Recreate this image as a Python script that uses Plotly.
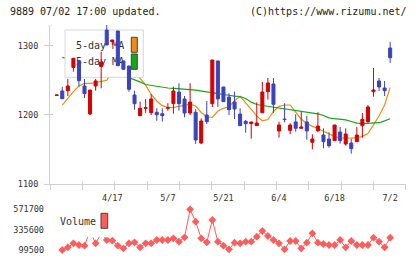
import plotly.graph_objects as go

# ---------------- data ----------------
idx = list(range(61))
opens = [1228.3, 1234.8, 1235.2, 1268.8, 1278.3, 1242.0, 1201.4, 1242.0, 1270.3, 1323.0,
         1306.2, 1321.7, 1278.3, 1271.0, 1229.0, 1199.0, 1209.7, 1203.3, 1203.9, 1201.9,
         1209.8, 1216.4, 1233.3, 1223.2, 1202.9, 1203.9, 1159.4, 1200.0, 1216.4, 1278.3,
         1240.6, 1226.0, 1218.8, 1201.4, 1190.9, 1187.4, 1184.5, 1203.3, 1233.8, 1244.9,
         1176.8, 1194.0, 1177.8, 1189.9, 1180.7, 1189.9, 1160.4, 1177.2, 1171.0, 1165.2,
         1162.8, 1175.4, 1158.0, 1159.4, 1161.3, 1184.5, 1190.3, 1233.8, 1249.3, 1239.1,
         1297.1]
highs = [1229.0, 1241.0, 1252.2, 1282.2, 1278.3, 1252.2, 1236.2, 1252.2, 1291.7, 1334.0,
         1308.7, 1321.7, 1278.3, 1271.0, 1235.2, 1219.3, 1223.0, 1230.0, 1209.7, 1209.7,
         1217.0, 1241.0, 1246.0, 1227.5, 1246.0, 1208.3, 1195.2, 1220.3, 1279.7, 1278.3,
         1240.6, 1231.4, 1233.8, 1209.7, 1192.8, 1189.9, 1218.4, 1247.8, 1253.6, 1253.6,
         1190.3, 1217.0, 1188.0, 1201.0, 1204.8, 1199.0, 1172.0, 1203.9, 1180.7, 1175.0,
         1185.5, 1182.6, 1180.7, 1165.2, 1182.6, 1202.9, 1214.5, 1268.1, 1253.6, 1249.3,
         1305.8]
lows = [1228.3, 1223.6, 1227.5, 1262.8, 1241.0, 1224.6, 1200.0, 1235.2, 1238.7, 1301.4,
        1301.4, 1271.4, 1266.2, 1233.8, 1207.7, 1199.0, 1203.0, 1200.0, 1191.7, 1190.3,
        1206.2, 1201.9, 1206.2, 1196.7, 1200.0, 1158.0, 1158.0, 1187.0, 1211.6, 1211.6,
        1219.3, 1200.0, 1194.2, 1184.5, 1174.3, 1165.7, 1184.5, 1203.3, 1222.2, 1203.3,
        1167.1, 1189.4, 1172.0, 1175.8, 1180.7, 1164.2, 1150.3, 1174.9, 1151.7, 1152.7,
        1162.8, 1158.4, 1155.5, 1143.9, 1161.3, 1167.1, 1188.8, 1226.5, 1234.8, 1227.5,
        1275.4]
closes = [1229.0, 1223.6, 1242.0, 1282.2, 1249.7, 1230.9, 1236.2, 1249.3, 1276.7, 1301.4,
          1308.7, 1271.4, 1266.2, 1237.2, 1216.4, 1209.7, 1210.6, 1223.2, 1200.5, 1199.0,
          1210.4, 1234.8, 1216.4, 1202.9, 1218.8, 1163.8, 1191.3, 1190.3, 1279.7, 1223.2,
          1219.3, 1207.7, 1208.7, 1184.5, 1187.4, 1189.9, 1188.4, 1233.3, 1246.4, 1215.5,
          1185.5, 1193.5, 1185.5, 1180.7, 1182.6, 1176.8, 1165.2, 1184.0, 1161.3, 1155.5,
          1185.5, 1162.8, 1172.5, 1151.2, 1171.0, 1193.7, 1211.6, 1236.2, 1240.6, 1235.2,
          1283.0]
ma5 = [None, 1214.2, 1224.1, 1233.8, 1241.9, 1245.7, 1245.9, 1246.7, 1248.6, 1250.3,
       1262.0, 1272.0, 1278.0, 1275.0, 1265.0, 1253.0, 1243.2, 1229.7, 1220.3, 1213.5,
       1210.9, 1210.7, 1212.6, 1214.3, 1215.7, 1213.0, 1203.6, 1197.5, 1196.4, 1205.8,
       1209.7, 1211.9, 1220.6, 1227.0, 1218.0, 1208.0, 1198.3, 1191.6, 1193.5, 1205.1,
       1212.5, 1214.5, 1214.5, 1204.6, 1193.9, 1188.0, 1183.5, 1180.4, 1176.8, 1172.2,
       1168.6, 1167.0, 1166.7, 1166.4, 1167.4, 1168.7, 1173.0, 1185.5, 1198.6, 1214.5,
       1240.0]
ma25 = [None, 1283.6, 1281.5, 1279.5, 1277.5, 1275.5, 1273.5, 1271.0, 1268.5, 1266.0,
        1263.0, 1260.0, 1257.0, 1254.0, 1251.4, 1248.0, 1244.2, 1242.8, 1241.2, 1239.4,
        1239.1, 1238.7, 1238.3, 1237.8, 1236.7, 1235.9, 1234.9, 1233.5, 1231.9, 1230.9,
        1229.7, 1228.3, 1227.4, 1226.8, 1223.9, 1218.6, 1215.2, 1213.8, 1212.6, 1211.6,
        1210.3, 1209.4, 1208.6, 1207.4, 1206.1, 1205.1, 1203.6, 1201.7, 1199.3, 1195.8,
        1194.6, 1194.1, 1193.0, 1190.6, 1188.3, 1187.5, 1187.7, 1187.8, 1188.8, 1191.4,
        1194.6]
volume = [None, 99500, 130400, 176800, 157500, 149800, 320000, 176800, 290000, 215500,
          207800, 149800, 118800, 176800, 188400, 130400, 176800, 176800, 215500, 215500,
          215500, 234800, 196200, 246500, 571700, 428200, 234800, 188400, 447500, 196200,
          149800, 107200, 184600, 176800, 196200, 196200, 254200, 319900, 261900, 215500,
          176800, 107200, 203900, 203900, 118800, 184600, 292900, 184600, 169100, 157500,
          157500, 215500, 130400, 203900, 157500, 157500, 157500, 242600, 196200, 130400,
          242600]
date_labels = ["4/17", "5/7", "5/21", "6/4", "6/18", "7/2"]
date_label_idx = [10, 20, 30, 40, 50, 60]
price_ticks = [1100, 1200, 1300]
vol_ticks = [99500, 335600, 571700]
title_left = "9889 07/02 17:00 updated."
title_right = "(C)https://www.rizumu.net/"

# ---------------- layout geometry ----------------
W, H = 420, 259
ML, MR, MT, MB = 50, 14, 25, 5
PW, PH = W - ML - MR, H - MT - MB
X0, X1 = -1.21, 62.85
P0, P1 = 1100, 1330.4
PRICE_TOP, PRICE_BOT = 25, 184
VOL_TOP, VOL_BOT = 205, 254
V0 = 99500 - (VOL_BOT - 250) * 11602
V1 = 99500 + (250 - VOL_TOP) * 11602


def px_x(px):
    return X0 + (px - ML) / PW * (X1 - X0)


def px_p(py):
    return P0 + (PRICE_BOT - py) / (PRICE_BOT - PRICE_TOP) * (P1 - P0)


def pap_x(px):
    return (px - ML) / PW


def pap_y(py):
    return (H - MB - py) / PH


RED, BLUE = "#d60000", "#3c43bd"
ORANGE, GREEN = "#f08c14", "#14a814"
VOLC = "#ff5c5c"
AXC = "#d0d0d0"
TXT = "#333333"
MONO = "DejaVu Sans Mono"

n_ticks = 12
xtick_pos = [X0 + 0.001 + (X1 - X0 - 0.002) * k / (n_ticks - 1) for k in range(n_ticks)]

fig = go.Figure()

# MA lines (main price axes)
fig.add_trace(go.Scatter(x=idx, y=ma5, mode="lines", line=dict(color=ORANGE, width=1.2),
                         hoverinfo="skip", xaxis="x", yaxis="y"))
fig.add_trace(go.Scatter(x=idx, y=ma25, mode="lines", line=dict(color=GREEN, width=1.2),
                         hoverinfo="skip", xaxis="x", yaxis="y"))


def rect(x0, x1, y0, y1):
    return ([px_x(x0), px_x(x1), px_x(x1), px_x(x0), px_x(x0)],
            [px_p(y0), px_p(y0), px_p(y1), px_p(y1), px_p(y0)])


# price legend box (hides MA lines, below candles)
bx, by = rect(65, 143.3, 30, 77.3)
fig.add_trace(go.Scatter(x=bx, y=by, mode="lines", fill="toself", fillcolor="white",
                         line=dict(color="#d8d8d8", width=1), hoverinfo="skip"))
fig.add_trace(go.Scatter(x=[px_x(76), px_x(76)], y=[px_p(46), px_p(62.7)],
                         mode="text", text=["5-day MA", "5-day MA"],
                         textposition="middle right",
                         textfont=dict(family=MONO, size=10, color=TXT), hoverinfo="skip"))
for (yy0, yy1, col) in [(37.3, 52.3, ORANGE), (54, 69.3, GREEN)]:
    sx, sy = rect(131.3, 137.3, yy0, yy1)
    fig.add_trace(go.Scatter(x=sx, y=sy, mode="lines", fill="toself", fillcolor=col,
                             line=dict(color="#444444", width=1), hoverinfo="skip"))

# candles on overlay axes (drawn above)
fig.add_trace(go.Candlestick(
    x=idx, open=opens, high=highs, low=lows, close=closes,
    increasing=dict(line=dict(color=RED, width=1), fillcolor=RED),
    decreasing=dict(line=dict(color=BLUE, width=1), fillcolor=BLUE),
    whiskerwidth=0, hoverinfo="skip", xaxis="x3", yaxis="y3"))

# volume
fig.add_trace(go.Scatter(x=idx, y=volume, mode="lines+markers",
                         line=dict(color=VOLC, width=1),
                         marker=dict(symbol="diamond", size=6, color=VOLC),
                         hoverinfo="skip", xaxis="x2", yaxis="y2"))

price_dom = [pap_y(PRICE_BOT), 1]
vol_dom = [0, pap_y(VOL_TOP)]

fig.update_layout(
    width=W, height=H, margin=dict(l=ML, r=MR, t=MT, b=MB, autoexpand=False),
    paper_bgcolor="white", plot_bgcolor="white", showlegend=False,
    boxgap=0.22,
    xaxis=dict(domain=[0, 1], range=[X0, X1], anchor="y", showline=True, linecolor=AXC,
               linewidth=1, showgrid=False, zeroline=False, tickmode="array",
               tickvals=xtick_pos, showticklabels=False, ticks="outside", ticklen=5,
               tickcolor=AXC, automargin=False, rangeslider=dict(visible=False)),
    yaxis=dict(domain=price_dom, range=[P0, P1], anchor="x", showline=True, linecolor=AXC,
               linewidth=1, showgrid=False, zeroline=False, tickmode="array",
               tickvals=price_ticks, ticks="outside", ticklen=5, tickcolor=AXC,
               ticklabelstandoff=4, automargin=False,
               tickfont=dict(family=MONO, size=8.5, color=TXT)),
    xaxis3=dict(overlaying="x", range=[X0, X1], anchor="y3", showline=False, showgrid=False,
                zeroline=False, tickmode="array", tickvals=xtick_pos, showticklabels=False,
                ticks="inside", ticklen=3, tickcolor=AXC, automargin=False,
                rangeslider=dict(visible=False)),
    yaxis3=dict(overlaying="y", range=[P0, P1], anchor="x3", showline=False, showgrid=False,
                zeroline=False, tickmode="array", tickvals=price_ticks, showticklabels=False,
                ticks="inside", ticklen=3, tickcolor=AXC, automargin=False),
    xaxis2=dict(domain=[0, 1], range=[X0, X1], anchor="y2", side="top", showline=False,
                showgrid=False, zeroline=False, tickmode="array", tickvals=date_label_idx,
                ticktext=date_labels, ticks="", ticklabelstandoff=1, automargin=False,
                tickfont=dict(family=MONO, size=8.5, color=TXT),
                rangeslider=dict(visible=False)),
    yaxis2=dict(domain=vol_dom, range=[V0, V1], anchor="x2", showline=False, showgrid=False,
                zeroline=False, tickmode="array", tickvals=vol_ticks,
                ticktext=[str(v) for v in vol_ticks], ticks="", ticklabelstandoff=5,
                automargin=False,
                tickfont=dict(family=MONO, size=8.5, color=TXT)),
)

# volume legend (covers the line behind it)
fig.add_shape(type="rect", xref="paper", yref="paper", layer="above",
              x0=pap_x(55), x1=pap_x(110), y0=pap_y(237.3), y1=pap_y(204),
              fillcolor="white", line=dict(width=0))
fig.add_shape(type="rect", xref="paper", yref="paper", layer="above",
              x0=pap_x(101), x1=pap_x(107.7), y0=pap_y(228.3), y1=pap_y(213.3),
              fillcolor=VOLC, line=dict(color="#444444", width=1))
fig.add_annotation(xref="paper", yref="paper", x=pap_x(58), y=pap_y(221.7),
                   xanchor="left", yanchor="middle", showarrow=False, text="Volume",
                   font=dict(family=MONO, size=10, color=TXT))

# header texts
fig.add_annotation(xref="paper", yref="paper", x=pap_x(8), y=pap_y(12),
                   xanchor="left", yanchor="middle", showarrow=False, text=title_left,
                   font=dict(family=MONO, size=10, color="#222222"))
fig.add_annotation(xref="paper", yref="paper", x=pap_x(409), y=pap_y(12),
                   xanchor="right", yanchor="middle", showarrow=False, text=title_right,
                   font=dict(family=MONO, size=10, color="#222222"))

fig.write_html("out.html")
